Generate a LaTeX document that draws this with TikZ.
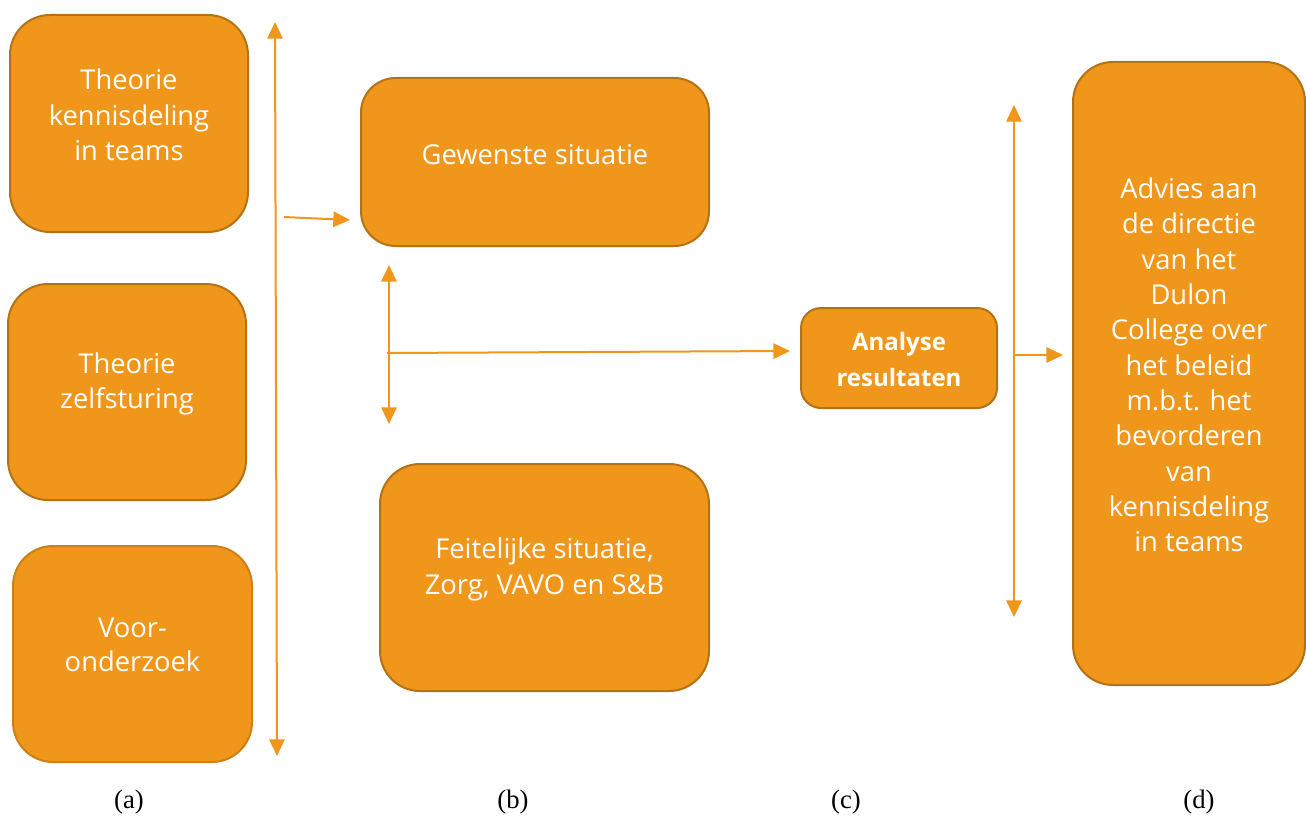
\documentclass[tikz,border=0pt]{standalone}
\usepackage{fontspec}
\setmainfont{Liberation Serif}
\newfontfamily\blokfont{Open Sans}
\usetikzlibrary{arrows.meta}
\definecolor{bloksoranje}{HTML}{F0961A}
\definecolor{bloksrand}{HTML}{B57214}

\begin{document}
\begin{tikzpicture}[x=0.75pt, y=-0.75pt,
  blok/.style={draw=bloksrand, line width=1.5pt, fill=bloksoranje, rounded corners=30pt, inner sep=0pt},
  tekst/.style={text=white, font=\blokfont\fontsize{20.5}{26.5}\selectfont, align=center},
  pijl/.style={draw=bloksoranje, line width=1.5pt, -{Triangle[length=12.5pt, width=11.5pt]}},
  dubbelpijl/.style={pijl, {Triangle[length=12.5pt, width=11.5pt]}-{Triangle[length=12.5pt, width=11.5pt]}},
  onder/.style={font=\fontsize{20}{24}\selectfont}]
  \useasboundingbox (0,0) rectangle (1306,817);

  % kolom (a)
  \node[blok, minimum width=178.5pt, minimum height=162.75pt] (kennis) at (129,123.5) {};
  \node[blok, minimum width=178.5pt, minimum height=162pt] (zelf) at (127,392) {};
  \node[blok, minimum width=179.25pt, minimum height=162pt, draw=bloksoranje!85!black] (voor) at (132.5,654) {};
  \node[tekst] (kennis-tekst) at (129,115) {Theorie\\kennisdeling\\in teams};
  \node[tekst] (zelf-tekst) at (127,384) {Theorie\\zelfsturing};
  \node[tekst, font=\blokfont\fontsize{20.5}{25.5}\selectfont] (voor-tekst) at (132.5,645) {Voor-\\onderzoek};

  % kolom (b)
  \node[blok, minimum width=261pt, minimum height=126pt, rounded corners=26pt] (gewenst) at (535,162) {};
  \node[blok, minimum width=246.75pt, minimum height=170.25pt] (feitelijk) at (544.5,577.5) {};
  \node[tekst] (gewenst-tekst) at (535,155) {Gewenste situatie};
  \node[tekst] (feitelijk-tekst) at (544.5,569.5) {Feitelijke situatie,\\Zorg, VAVO en S\&B};

  % kolom (c)
  \node[blok, minimum width=147pt, minimum height=75pt, rounded corners=15pt] (analyse) at (899,358) {};
  \node[tekst, font=\blokfont\bfseries\fontsize{18}{27}\selectfont] (analyse-tekst) at (899,359) {Analyse\\resultaten};

  % kolom (d)
  \node[blok, minimum width=174pt, minimum height=467.25pt] (advies) at (1189,373.5) {};
  \node[tekst] (advies-tekst) at (1189,365) {Advies aan\\de directie\\van het\\Dulon\\College over\\het beleid\\m.b.t. het\\bevorderen\\van\\kennisdeling\\in teams};

  % pijlen
  \coordinate (links-boven) at (275,22);
  \coordinate (links-onder) at (277,756);
  \coordinate (naar-gewenst) at (284,217);
  \coordinate (gewenst-in) at (350,220);
  \coordinate (midden-boven) at (389,265);
  \coordinate (midden-onder) at (389,424);
  \coordinate (naar-analyse) at (387,353);
  \coordinate (analyse-in) at (790,351);
  \coordinate (rechts-boven) at (1014,105);
  \coordinate (rechts-onder) at (1014,617);
  \coordinate (naar-advies) at (1014,355);
  \coordinate (advies-in) at (1063,355);
  \draw[dubbelpijl] (links-boven) -- (links-onder);
  \draw[pijl] (naar-gewenst) -- (gewenst-in);
  \draw[dubbelpijl] (midden-boven) -- (midden-onder);
  \draw[pijl] (naar-analyse) -- (analyse-in);
  \draw[dubbelpijl] (rechts-boven) -- (rechts-onder);
  \draw[pijl] (naar-advies) -- (advies-in);

  % onderschriften
  \node[onder] (label-a) at (129,802) {(a)};
  \node[onder] (label-b) at (513,802) {(b)};
  \node[onder] (label-c) at (846,802) {(c)};
  \node[onder] (label-d) at (1199,802) {(d)};
\end{tikzpicture}
\end{document}
